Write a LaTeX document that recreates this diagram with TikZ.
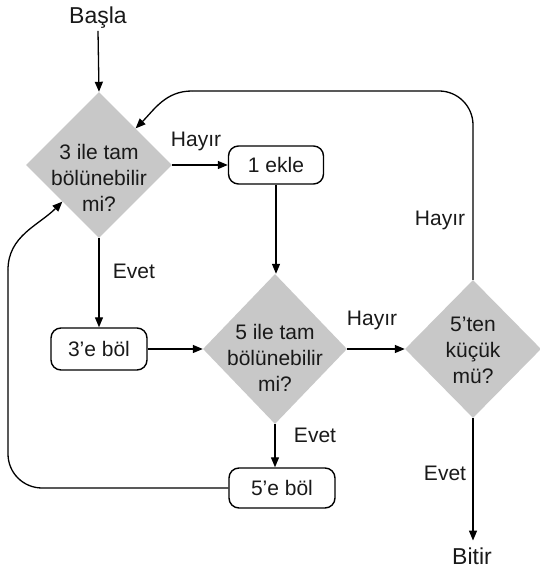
\documentclass[tikz,border=0pt]{standalone}
\usepackage{fontspec}
\setmainfont{Liberation Sans}
\usetikzlibrary{shapes.geometric,arrows.meta}
\definecolor{diafill}{RGB}{200,200,200}
\definecolor{ink}{RGB}{25,25,25}
\tikzset{
  dia/.style={diamond,fill=diafill,draw=none,inner sep=0pt},
  dtext/.style={align=center,font=\fontsize{21}{26}\selectfont,text=ink,inner sep=0pt},
  proc/.style={draw=black,line width=1.4pt,rounded corners=10pt,font=\fontsize{21}{26}\selectfont,text=ink,inner sep=0pt},
  lbl/.style={font=\fontsize{21}{26}\selectfont,text=ink,inner sep=1pt},
  term/.style={font=\fontsize{23}{28}\selectfont,text=ink,inner sep=2pt},
  arr/.style={line width=1.3pt,-{Triangle[length=10pt,width=8pt]}},
  ln/.style={line width=1.3pt}
}
\begin{document}
\begin{tikzpicture}[x=1pt,y=1pt]
\useasboundingbox (0,0) rectangle (539,569);
% nodes
\node[term] (start) at (98,551) {Başla};
\node[dia,minimum width=146pt,minimum height=146pt] (d1) at (99,404) {};
\node[dtext] (t1) at (99,391) {3 ile tam\\bölünebilir\\mi?};
\node[proc,minimum width=95pt,minimum height=38pt] (b1) at (276,404) {1 ekle};
\node[dia,minimum width=144pt,minimum height=150pt] (d2) at (275,220) {};
\node[dtext] (t2) at (275,211) {5 ile tam\\bölünebilir\\mi?};
\node[proc,minimum width=96pt,minimum height=42pt] (b3) at (99,220) {3'e böl};
\node[proc,minimum width=106pt,minimum height=40pt] (b5) at (282,81) {5'e böl};
\node[dia,minimum width=136pt,minimum height=138pt] (d3) at (473,220) {};
\node[dtext] (t3) at (473,219) {5'ten\\küçük\\mü?};
\node[term,outer ysep=5pt] (end) at (472,13) {Bitir};
% labels
\node[lbl] (h1) at (196,428) {Hayır};
\node[lbl] (e1) at (134,298) {Evet};
\node[lbl] (h2) at (372,249) {Hayır};
\node[lbl] (e2) at (315,134) {Evet};
\node[lbl] (e3) at (445,96) {Evet};
\node[lbl] (h3) at (440,349) {Hayır};
% helper coordinates
\coordinate (cA) at (192,478);
\coordinate (cB) at (8,299);
% connectors
\draw[arr] (start.south) -- (d1.north);
\draw[arr] (d1.east) -- (b1.west);
\draw[arr] (b1.south) -- (b1.south |- d2.north);
\draw[arr] (d1.south) -- (d1.south |- b3.north);
\draw[arr] (b3.east) -- (d2.west);
\draw[arr] (d2.south) -- (d2.south |- b5.north);
\draw[arr] (d2.east) -- (d3.west);
\draw[arr] (d3.south) -- (d3.south |- end.north);
\draw[ln,rounded corners=34pt] (d3.north) |- (cA);
\draw[arr] (cA) to[out=180,in=45] (d1.north east);
\draw[ln,rounded corners=34pt] (b5.west) -| (cB);
\draw[arr] (cB) to[out=90,in=225] (d1.south west);
\end{tikzpicture}
\end{document}
